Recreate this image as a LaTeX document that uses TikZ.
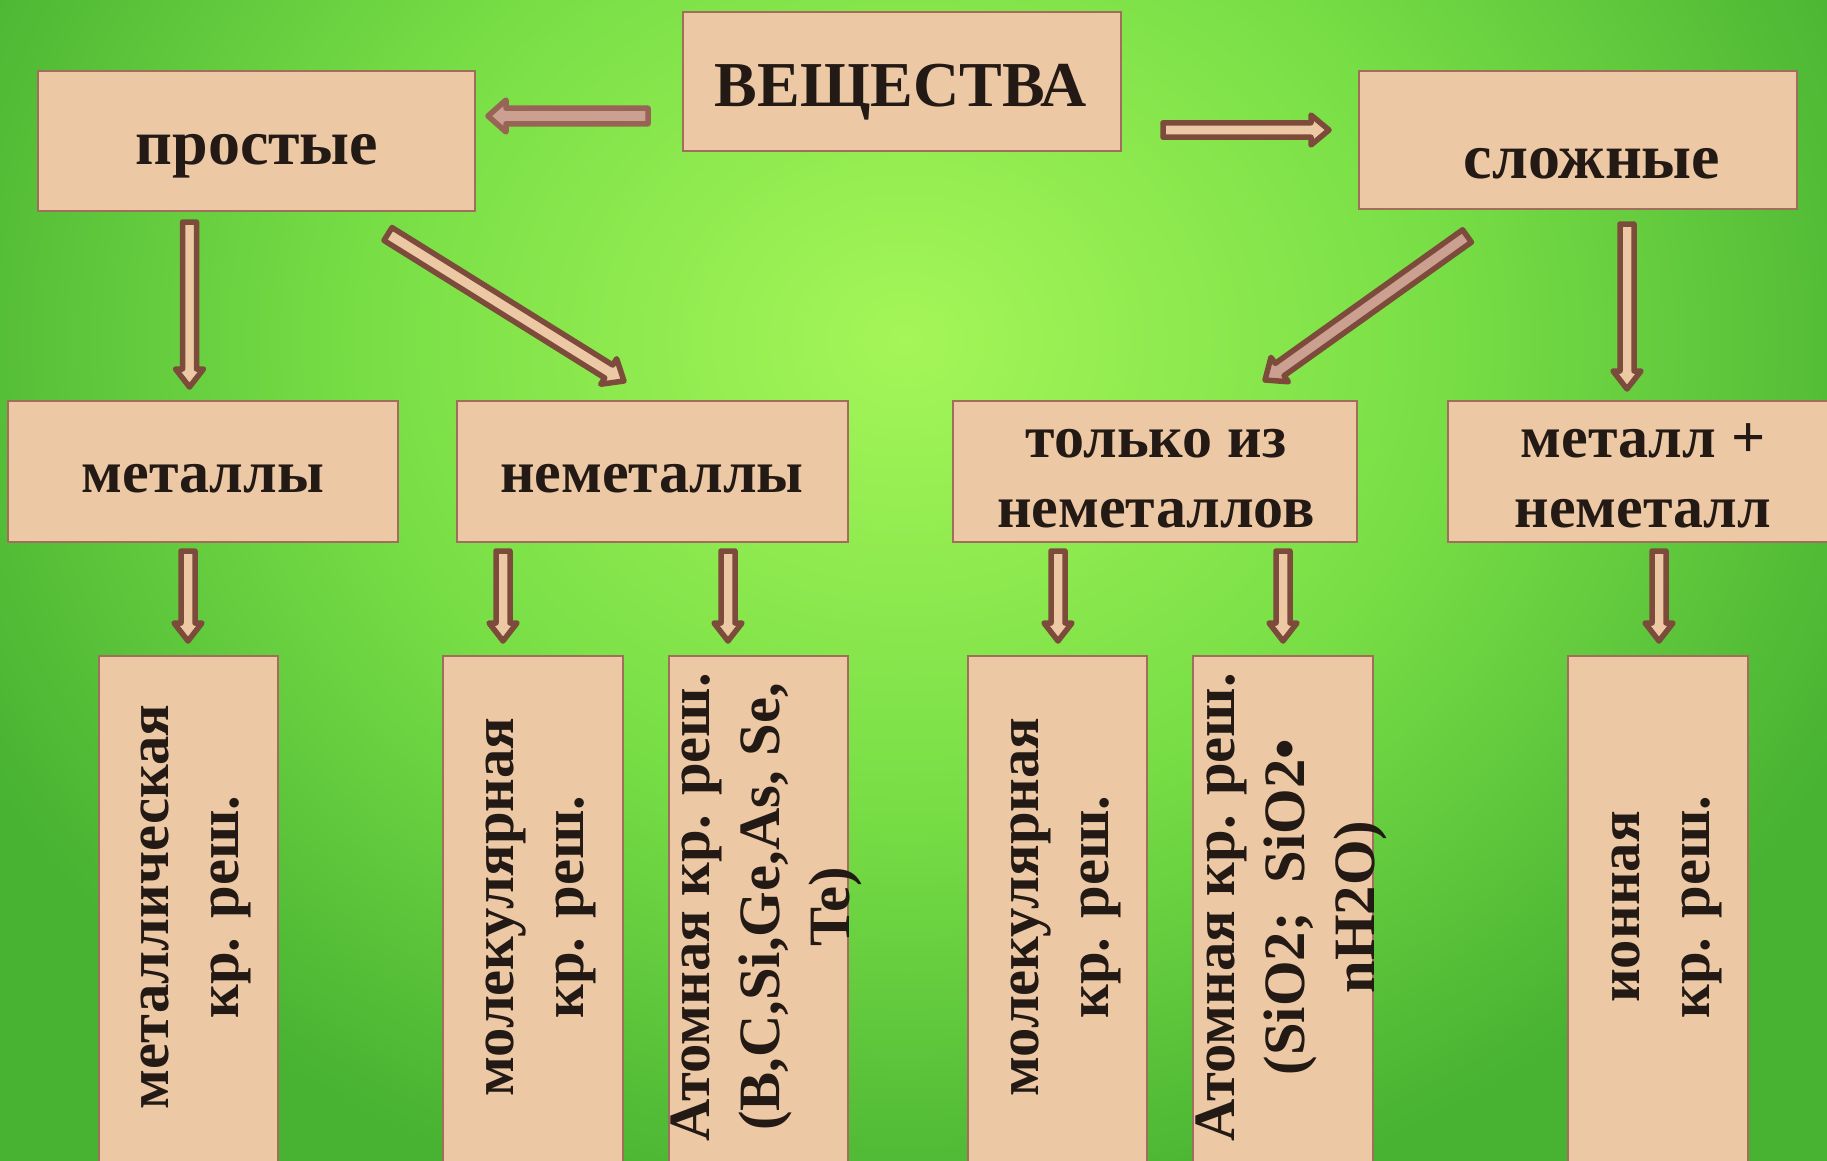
\documentclass[tikz,border=0pt]{standalone}
\usepackage{fontspec}
\setmainfont{Liberation Serif}
\usetikzlibrary{calc,fit}
\definecolor{peach}{RGB}{237,200,164}
\definecolor{boxline}{RGB}{160,110,90}
\definecolor{arrline}{RGB}{125,75,59}
\definecolor{rosefill}{RGB}{203,160,144}
\definecolor{roseline}{RGB}{152,100,86}
\definecolor{ink}{RGB}{35,26,21}
\definecolor{bgc}{RGB}{165,246,88}
\definecolor{bgm}{RGB}{120,222,70}
\definecolor{bge}{RGB}{72,178,50}
\pgfdeclareradialshading{bgshade}{\pgfpoint{0bp}{0bp}}{color(0bp)=(bgc); color(13bp)=(bgm); color(25bp)=(bge); color(50bp)=(bge)}
\newcommand{\blockarrow}[5][]{%
  \coordinate (bac) at ($(#3)!9pt!(#2)$);
  \draw[barrow,#1] ($(#2)!#4!90:(#3)$) -- ($(bac)!#4!-90:(#2)$) -- ($(bac)!#5!-90:(#2)$) -- (#3) -- ($(bac)!#5!90:(#2)$) -- ($(bac)!#4!90:(#2)$) -- ($(#2)!#4!-90:(#3)$) -- cycle;}
\tikzset{
 box/.style={draw=boxline, line width=1.3pt, fill=peach, inner sep=0pt},
 htxt/.style={text=ink, font=\fontsize{32}{38}\selectfont\bfseries, inner sep=0pt, anchor=base},
 h2txt/.style={text=ink, font=\fontsize{30}{35}\selectfont\bfseries, inner sep=0pt, anchor=base},
 vtxt/.style={text=ink, font=\fontsize{29.3}{35}\selectfont\bfseries, rotate=90, align=center, inner sep=0pt},
 barrow/.style={draw=arrline, fill=peach, line width=2.75pt, line join=round},
 rosearrow/.style={draw=roseline, fill=rosefill},
}
\begin{document}
\begin{tikzpicture}[x=0.5pt,y=-0.5pt]
\useasboundingbox (0,0) rectangle (1827,1161);
% background
\fill[bge] (0,0) rectangle (1827,1161);
\begin{scope}
\clip (0,0) rectangle (1827,1161);
\shade[shading=bgshade] (905,340) ellipse [x radius=1050, y radius=900];
\end{scope}
% row 1 boxes
\node[box, fit={(683,12) (1121,151)}] (vesch) {};
\node[box, fit={(38,71) (475,211)}] (prost) {};
\node[box, fit={(1359,71) (1797,209)}] (slozh) {};
\node[htxt] (tvesch) at (901,107) {ВЕЩЕСТВА};
\node[htxt] (tprost) at (257,164) {простые};
\node[htxt] (tslozh) at (1592,178) {сложные};
% row 2 boxes
\node[box, fit={(8,401) (398,542)}] (met) {};
\node[box, fit={(457,401) (848,542)}] (nemet) {};
\node[box, fit={(953,401) (1357,542)}] (tolko) {};
\node[box, fit={(1448,401) (1840,542)}] (metnem) {};
\node[h2txt] (tmet) at (203,492) {металлы};
\node[h2txt] (tnemet) at (652,492) {неметаллы};
\node[h2txt] (ttolko1) at (1156,457) {только из};
\node[h2txt] (ttolko2) at (1156,527) {неметаллов};
\node[h2txt] (tmetnem1) at (1643,457) {металл +};
\node[h2txt] (tmetnem2) at (1643,527) {неметалл};
% row 3 boxes
\node[box, fit={(99,656) (278,1175)}] (b1) {};
\node[box, fit={(443,656) (623,1175)}] (b2) {};
\node[box, fit={(669,656) (848,1175)}] (b3) {};
\node[box, fit={(968,656) (1147,1175)}] (b4) {};
\node[box, fit={(1193,656) (1373,1175)}] (b5) {};
\node[box, fit={(1568,656) (1748,1175)}] (b6) {};
\node[vtxt] (t1) at (196,907) {металлическая\\кр. реш.};
\node[vtxt] (t2) at (541,907) {молекулярная\\кр. реш.};
\node[vtxt] (t3) at (766,907) {Атомная кр. реш.\\(B,C,Si,Ge,As, Se,\\Te)};
\node[vtxt] (t4) at (1066,907) {молекулярная\\кр. реш.};
\node[vtxt] (t5) at (1291,907) {Атомная кр. реш.\\(SiO2;\ \ SiO2•\\nH2O)};
\node[vtxt] (t6) at (1667,907) {ионная\\кр. реш.};
% arrow end points
\coordinate (a1s) at (648,116); \coordinate (a1e) at (488,116);
\coordinate (a2s) at (1163,130); \coordinate (a2e) at (1329,130);
\coordinate (a3s) at (189.5,222); \coordinate (a3e) at (189.5,387);
\coordinate (a4s) at (388,234); \coordinate (a4e) at (624,381);
\coordinate (a5s) at (1467,236); \coordinate (a5e) at (1265,380);
\coordinate (a6s) at (1627,224); \coordinate (a6e) at (1627,389);
\coordinate (r1s) at (188,551); \coordinate (r1e) at (188,641);
\coordinate (r2s) at (503,551); \coordinate (r2e) at (503,641);
\coordinate (r3s) at (728,551); \coordinate (r3e) at (728,641);
\coordinate (r4s) at (1058,551); \coordinate (r4e) at (1058,641);
\coordinate (r5s) at (1283,551); \coordinate (r5e) at (1283,641);
\coordinate (r6s) at (1659,551); \coordinate (r6e) at (1659,641);
% arrows
\blockarrow[rosearrow]{a1s}{a1e}{3.9pt}{8pt}
\blockarrow{a2s}{a2e}{3.6pt}{7.5pt}
\blockarrow{a3s}{a3e}{3.5pt}{7pt}
\blockarrow{a4s}{a4e}{3.8pt}{7.5pt}
\blockarrow[fill=rosefill]{a5s}{a5e}{3.8pt}{7.5pt}
\blockarrow{a6s}{a6e}{3.5pt}{7pt}
\blockarrow{r1s}{r1e}{3.5pt}{7pt}
\blockarrow{r2s}{r2e}{3.5pt}{7pt}
\blockarrow{r3s}{r3e}{3.5pt}{7pt}
\blockarrow{r4s}{r4e}{3.5pt}{7pt}
\blockarrow{r5s}{r5e}{3.5pt}{7pt}
\blockarrow{r6s}{r6e}{3.5pt}{7pt}
\end{tikzpicture}
\end{document}
